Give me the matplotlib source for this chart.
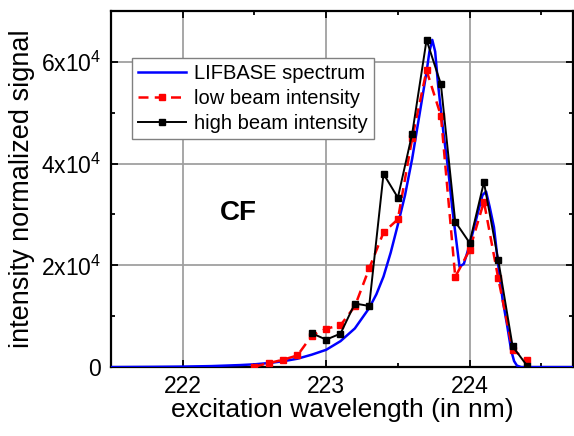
import matplotlib
matplotlib.use("Agg")
import matplotlib.pyplot as plt
from matplotlib.ticker import MultipleLocator, FixedLocator

plt.rcParams["font.family"] = ["Liberation Sans", "DejaVu Sans"]
plt.rcParams["mathtext.fontset"] = "custom"
plt.rcParams["mathtext.rm"] = "Liberation Sans"
plt.rcParams["mathtext.it"] = "Liberation Sans"

# LIFBASE simulated spectrum
lif_x = [221.5, 221.8, 222.0, 222.2, 222.4, 222.5, 222.6, 222.7, 222.8, 222.9,
         223.0, 223.1, 223.2, 223.3, 223.35, 223.4, 223.45, 223.5, 223.55, 223.6,
         223.65, 223.7, 223.72, 223.74, 223.76, 223.78, 223.8, 223.82, 223.85, 223.88,
         223.9, 223.93, 223.96, 224.0, 224.05, 224.09, 224.115, 224.14, 224.17, 224.2,
         224.23, 224.26, 224.29, 224.31, 224.33, 224.36, 224.72]
lif_y = [0, 50, 100, 200, 400, 550, 800, 1150, 1650, 2450,
         3400, 5100, 7600, 11600, 14300, 17800, 22500, 28000, 33800, 41000,
         49500, 58000, 62000, 64300, 62000, 55600, 50500, 45500, 39000, 31000,
         26500, 19700, 20300, 24000, 29500, 33800, 34500, 31500, 27500, 20000,
         13300, 8500, 3300, 1200, 300, 0, 0]

# low beam intensity
low_x = [222.5, 222.6, 222.7, 222.8, 222.9, 223.0, 223.1, 223.2, 223.3, 223.4,
         223.5, 223.6, 223.7, 223.8, 223.9, 224.0, 224.1, 224.2, 224.3, 224.4]
low_y = [100, 790, 1450, 2300, 6200, 7560, 8220, 11950, 19390, 26470,
         29040, 45000, 58300, 49400, 17740, 22990, 32510, 17420, 3420, 1400]

# high beam intensity
high_x = [222.9, 223.0, 223.1, 223.2, 223.3, 223.4, 223.5, 223.6, 223.7, 223.8,
          223.9, 224.0, 224.1, 224.2, 224.3, 224.4]
high_y = [6650, 5400, 6580, 12490, 12020, 37970, 33300, 45900, 64300, 55600,
          28570, 24430, 36330, 21020, 4080, 300]

ytick_vals = [0, 20000, 40000, 60000]
ytick_labels = ["0", "2x10$^4$", "4x10$^4$", "6x10$^4$"]

fig = plt.figure(figsize=(5.74, 4.36), dpi=100)
ax = fig.add_axes([0.1934, 0.158, 0.8046, 0.817])

ax.plot(lif_x, lif_y, color="#0000ff", linewidth=1.8, label="LIFBASE spectrum", zorder=3)
ax.plot(low_x, low_y, color="#ff0000", linewidth=1.8, linestyle=(0, (4, 2.5)),
        marker="s", markersize=5, label="low beam intensity", zorder=4)
ax.plot(high_x, high_y, color="black", linewidth=1.4,
        marker="s", markersize=5, label="high beam intensity", zorder=5)

ax.set_xlim(221.5, 224.72)
ax.set_ylim(0, 70000)
ax.xaxis.set_major_locator(MultipleLocator(1))
ax.xaxis.set_minor_locator(MultipleLocator(0.5))
ax.yaxis.set_major_locator(FixedLocator(ytick_vals))
ax.yaxis.set_minor_locator(MultipleLocator(10000))
ax.set_yticklabels(ytick_labels)

ax.grid(True, which="major", color="#a0a0a0", linewidth=1.3)
ax.set_axisbelow(True)
ax.tick_params(which="both", direction="in", top=True, right=True, labelsize=16.5, width=1.3)
ax.tick_params(which="major", length=5)
ax.tick_params(which="minor", length=3)
ax.tick_params(axis="x", pad=6)
ax.tick_params(axis="y", pad=7)
for s in ax.spines.values():
    s.set_linewidth(1.6)

ax.set_xlabel("excitation wavelength (in nm)", fontsize=19, labelpad=0)
ax.set_ylabel("intensity normalized signal", fontsize=19.5, labelpad=4)

ax.text(222.39, 30300, "CF", fontsize=20, fontweight="bold", ha="center", va="center")

leg = ax.legend(loc="upper left", bbox_to_anchor=(0.045, 0.869), borderaxespad=0,
                fontsize=14.5, fancybox=False, framealpha=1, edgecolor="#808080",
                handlelength=2.4, labelspacing=0.3, handletextpad=0.4,
                borderpad=0.3)
leg.get_frame().set_linewidth(1.0)

fig.savefig("out.png", dpi=100)
